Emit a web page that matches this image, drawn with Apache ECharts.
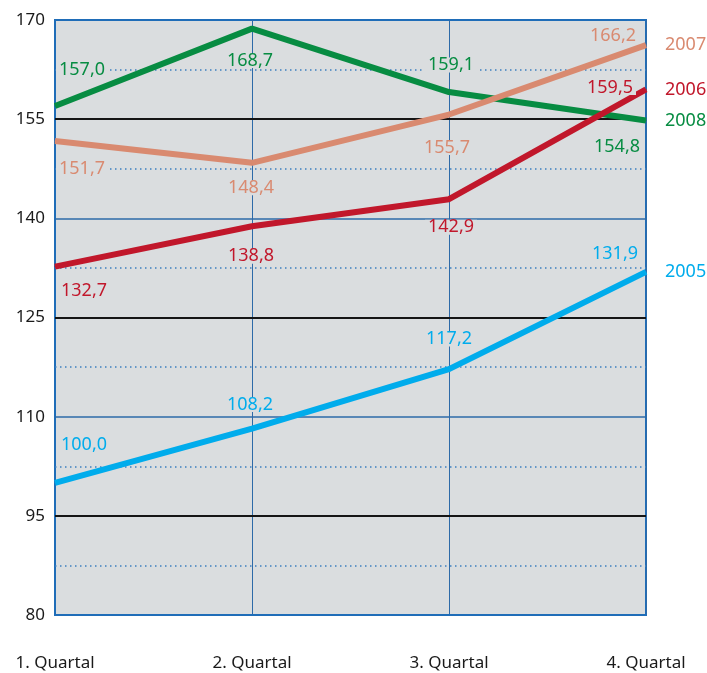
<!DOCTYPE html>
<html>
<head>
<meta charset="utf-8">
<script src="https://cdn.jsdelivr.net/npm/echarts@6/dist/echarts.min.js"></script>
<style>
  html,body{margin:0;padding:0;background:#fff;}
  #chart{width:707px;height:673px;}
</style>
</head>
<body>
<div id="chart"></div>
<script>
// Quartale
var categories = ['1. Quartal', '2. Quartal', '3. Quartal', '4. Quartal'];
// Jahresreihen
var s2005 = [100.0, 108.2, 117.2, 131.9];
var s2006 = [132.7, 138.8, 142.9, 159.5];
var s2007 = [151.7, 148.4, 155.7, 166.2];
var s2008 = [157.0, 168.7, 159.1, 154.8];
// Achse
var yTickLabels = [80, 95, 110, 125, 140, 155, 170];
var blackLines = [95, 125, 155];
var blueLines = [110, 140];
var dottedLines = [87.5, 102.5, 117.5, 132.5, 147.5, 162.5];

var bg = '#dadddf';
var font = 'Noto Sans';

function fmt(v){ return v.toFixed(1).replace('.', ','); }

// eine Linie mit Werte-Labels (offsets je Punkt)
function makeSeries(name, data, color, offsets){
    return {
        name: name,
        type: 'line',
        data: data.map(function(v, i){
            return {
                value: v,
                label: { offset: offsets[i] }
            };
        }),
        symbol: 'circle',
        symbolSize: 1,
        itemStyle: { color: color },
        lineStyle: { color: color, width: 6 },
        z: 3,
        label: {
            show: true,
            position: 'inside',
            align: 'center',
            verticalAlign: 'middle',
            formatter: function(p){ return fmt(p.value); },
            color: color,
            fontFamily: font,
            fontSize: 18,
            lineHeight: 15,
            backgroundColor: bg,
            padding: [0, 3]
        },
        endLabel: {
            show: true,
            formatter: name,
            distance: 19,
            color: color,
            fontFamily: font,
            fontSize: 18
        }
    };
}

var gridLines = []
    .concat(dottedLines.map(function(v){
        return { yAxis: v, lineStyle: { color: '#3d7fc0', width: 1.5, type: [1.5, 3.5] } };
    }))
    .concat(blueLines.map(function(v){
        return { yAxis: v, lineStyle: { color: '#2d6aa8', width: 1.5, type: 'solid' } };
    }))
    .concat(blackLines.map(function(v){
        return { yAxis: v, lineStyle: { color: '#151515', width: 2, type: 'solid' } };
    }));

var s08 = makeSeries('2008', s2008, '#078c42', [[27, -36], [-2, 32], [2, -27], [-29, 26]]);
s08.markLine = {
    silent: true,
    symbol: 'none',
    z: 1,
    label: { show: false },
    data: gridLines
};

var option = {
    animation: false,
    backgroundColor: '#fff',
    grid: {
        left: 55, right: 61, top: 20, bottom: 58,
        show: true,
        backgroundColor: bg,
        borderColor: '#1f6db8',
        borderWidth: 2
    },
    xAxis: {
        type: 'category',
        data: categories,
        boundaryGap: false,
        axisLine: { lineStyle: { color: '#1f6db8', width: 2 } },
        axisTick: { show: false },
        axisLabel: {
            margin: 40,
            color: '#1a1a1a',
            fontFamily: font,
            fontSize: 17
        },
        splitLine: { show: true, lineStyle: { color: '#2d6aa8', width: 1 } }
    },
    yAxis: {
        type: 'value',
        min: 80,
        max: 170,
        interval: 5,
        axisLine: { show: true, lineStyle: { color: '#1f6db8', width: 2 } },
        axisTick: { show: false },
        splitLine: { show: false },
        axisLabel: {
            margin: 10,
            color: '#1a1a1a',
            fontFamily: font,
            fontSize: 17,
            formatter: function(v){
                return yTickLabels.indexOf(v) >= 0 ? String(v) : '';
            }
        }
    },
    series: [
        s08,
        makeSeries('2007', s2007, '#d98a70', [[27, 28], [-1, 25], [-2, 33], [-33, -9]]),
        makeSeries('2006', s2006, '#c1172b', [[29, 24], [-1, 30], [2, 28], [-36, -2]]),
        makeSeries('2005', s2005, '#00acec', [[29, -38], [-2, -24], [0, -30], [-31, -18]])
    ]
};

var chart = echarts.init(document.getElementById('chart'));
chart.setOption(option);
window.addEventListener('resize', function(){ chart.resize(); });
</script>
</body>
</html>
